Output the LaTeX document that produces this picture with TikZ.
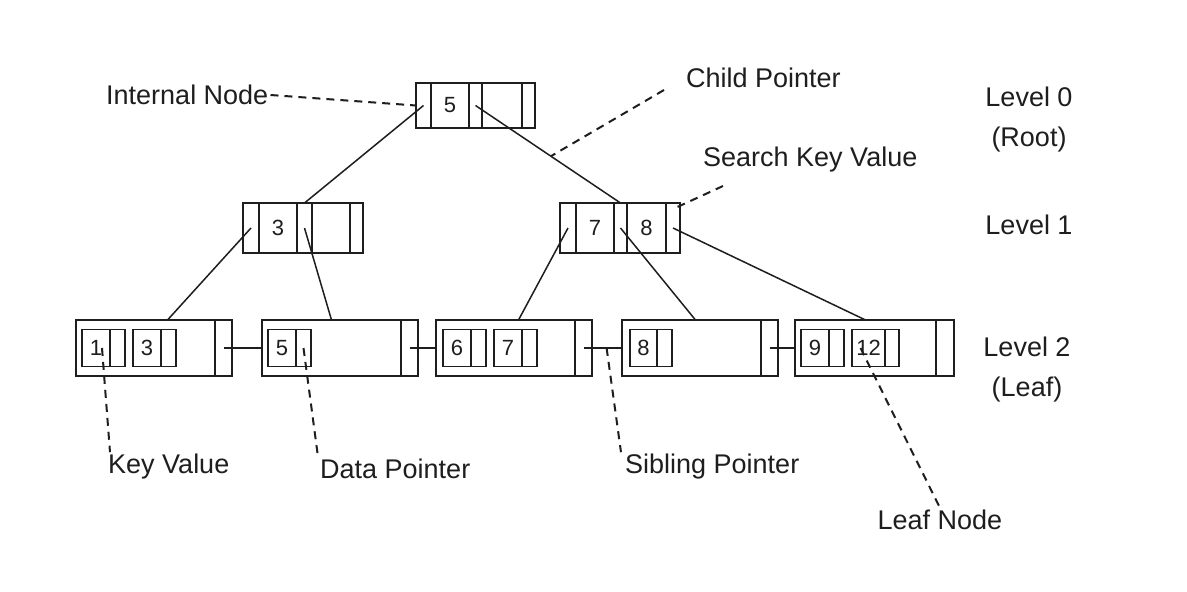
\documentclass[tikz,border=0pt]{standalone}
\usepackage{fontspec}
\setmainfont{Liberation Sans}
\usetikzlibrary{positioning}
\definecolor{ink}{RGB}{30,30,30}
\begin{document}
\begin{tikzpicture}[x=1pt,y=-1pt]
			\tikzset{cell/.style={draw=ink, line width=1.9pt, outer sep=0pt, inner sep=0pt, font=\fontsize{22}{22}\selectfont, text=ink}};
			\tikzset{inner/.style={cell, line width=1.6pt, minimum height=37pt}};
			\tikzset{leafbody/.style={cell, line width=2.1pt, minimum height=56pt}};
			\tikzset{label/.style={inner sep=2pt, font=\fontsize{27}{40}\selectfont, text=ink}};
			\tikzset{leader/.style={draw=ink, line width=2pt, dash pattern=on 8pt off 6pt}};
			\tikzset{link/.style={draw=ink, line width=1.5pt}};
			\useasboundingbox[fill=white] (0,0) rectangle (1187,592);

			% root
			\node[cell,minimum height=45pt,minimum width=15pt,anchor=west] (r-p0) at (416,105.5) {};
			\node[cell,minimum height=45pt,minimum width=38pt,right=0pt of r-p0] (r-k1) {5};
			\node[cell,minimum height=45pt,minimum width=13pt,right=0pt of r-k1] (r-p1) {};
			\node[cell,minimum height=45pt,minimum width=40pt,right=0pt of r-p1] (r-k2) {};
			\node[cell,minimum height=45pt,minimum width=13pt,right=0pt of r-k2] (r-p2) {};

			% level 1
			\node[cell,minimum height=50pt,minimum width=16pt,anchor=west] (la-p0) at (243,228) {};
			\node[cell,minimum height=50pt,minimum width=38pt,right=0pt of la-p0] (la-k1) {3};
			\node[cell,minimum height=50pt,minimum width=15pt,right=0pt of la-k1] (la-p1) {};
			\node[cell,minimum height=50pt,minimum width=38pt,right=0pt of la-p1] (la-k2) {};
			\node[cell,minimum height=50pt,minimum width=13pt,right=0pt of la-k2] (la-p2) {};

			\node[cell,minimum height=50pt,minimum width=16pt,anchor=west] (lb-p0) at (560,228) {};
			\node[cell,minimum height=50pt,minimum width=38pt,right=0pt of lb-p0] (lb-k1) {7};
			\node[cell,minimum height=50pt,minimum width=13pt,right=0pt of lb-k1] (lb-p1) {};
			\node[cell,minimum height=50pt,minimum width=39pt,right=0pt of lb-p1] (lb-k2) {8};
			\node[cell,minimum height=50pt,minimum width=14pt,right=0pt of lb-k2] (lb-p2) {};

			% level 2 (leaves)
			\node[leafbody,minimum width=139pt,anchor=west] (l1) at (76,348) {};
			\node[leafbody,minimum width=17pt,right=0pt of l1] (l1-p) {};
			\node[inner,minimum width=28pt,anchor=west] (l1-k1) at ([xshift=6pt]l1.west) {1};
			\node[inner,minimum width=15pt,right=0pt of l1-k1] (l1-q1) {};
			\node[inner,minimum width=28pt,right=8pt of l1-q1] (l1-k2) {3};
			\node[inner,minimum width=15pt,right=0pt of l1-k2] (l1-q2) {};

			\node[leafbody,minimum width=139pt,anchor=west] (l2) at (262,348) {};
			\node[leafbody,minimum width=17pt,right=0pt of l2] (l2-p) {};
			\node[inner,minimum width=28pt,anchor=west] (l2-k1) at ([xshift=6pt]l2.west) {5};
			\node[inner,minimum width=15pt,right=0pt of l2-k1] (l2-q1) {};

			\node[leafbody,minimum width=139pt,anchor=west] (l3) at (436,348) {};
			\node[leafbody,minimum width=17pt,right=0pt of l3] (l3-p) {};
			\node[inner,minimum width=28pt,anchor=west] (l3-k1) at ([xshift=7pt]l3.west) {6};
			\node[inner,minimum width=15pt,right=0pt of l3-k1] (l3-q1) {};
			\node[inner,minimum width=28pt,right=8pt of l3-q1] (l3-k2) {7};
			\node[inner,minimum width=15pt,right=0pt of l3-k2] (l3-q2) {};

			\node[leafbody,minimum width=139pt,anchor=west] (l4) at (622,348) {};
			\node[leafbody,minimum width=17pt,right=0pt of l4] (l4-p) {};
			\node[inner,minimum width=27pt,anchor=west] (l4-k1) at ([xshift=8pt]l4.west) {8};
			\node[inner,minimum width=15pt,right=0pt of l4-k1] (l4-q1) {};

			\node[leafbody,minimum width=141pt,anchor=west] (l5) at (795,348) {};
			\node[leafbody,minimum width=18pt,right=0pt of l5] (l5-p) {};
			\node[inner,minimum width=28pt,anchor=west] (l5-k1) at ([xshift=6pt]l5.west) {9};
			\node[inner,minimum width=15pt,right=0pt of l5-k1] (l5-q1) {};
			\node[inner,minimum width=33pt,right=8pt of l5-q1] (l5-k2) {12};
			\node[inner,minimum width=14pt,right=0pt of l5-k2] (l5-q2) {};

			% child pointers
			\draw[link] (r-p0.center) -- (la-p1.north);
			\draw[link] (r-p1.center) -- coordinate[pos=0.52] (cp) (lb-p1.north);
			\draw[link] (la-p0.center) -- ([xshift=22pt]l1.north);
			\draw[link] (la-p1.center) -- (l2.north);
			\draw[link] (lb-p0.center) -- ([xshift=13pt]l3.north);
			\draw[link] (lb-p1.center) -- ([xshift=4pt]l4.north);
			\draw[link] (lb-p2.center) -- (l5.north);

			% sibling pointers
			\draw[link] (l1-p.center) -- (l2.west);
			\draw[link] (l2-p.center) -- (l3.west);
			\draw[link] (l3-p.center) -- coordinate[pos=0.6] (sp) (l4.west);
			\draw[link] (l4-p.center) -- (l5.west);

			% labels
			\node[label,anchor=west] (inl) at (104,95) {Internal Node};
			\node[label,anchor=west] (cpl) at (684,78) {Child Pointer};
			\node[label,anchor=west] (skv) at (701,160) {Search Key Value};
			\node[label,anchor=west] (kv) at (106,467) {Key Value};
			\node[label,anchor=west] (dp) at (318,469) {Data Pointer};
			\node[label,anchor=west] (spl) at (623,467) {Sibling Pointer};
			\node[label] (ln) at (940,520) {Leaf Node};
			\node[label,align=center] (lv0) at (1029,120) {Level 0\\(Root)};
			\node[label] (lv1) at (1029,225) {Level 1};
			\node[label,align=center] (lv2) at (1027,370) {Level 2\\(Leaf)};

			\draw[leader] (inl.east) -- (r-p0.west);
			\draw[leader] ([xshift=-20pt,yshift=-12pt]cpl.west) -- (cp);
			\draw[leader] ([xshift=22pt,yshift=-26pt]skv.west) -- ([yshift=-6pt]lb-p2.north);
			\draw[leader] ([xshift=6pt]l1-k1.center) -- ([xshift=4pt]kv.north west);
			\draw[leader] (l2-q1.center) -- (dp.north west);
			\draw[leader] (sp) -- ([xshift=-2pt]spl.north west);
			\draw[leader] ([xshift=-8pt]l5-k2.center) -- (ln.north);
		\end{tikzpicture}
\end{document}
